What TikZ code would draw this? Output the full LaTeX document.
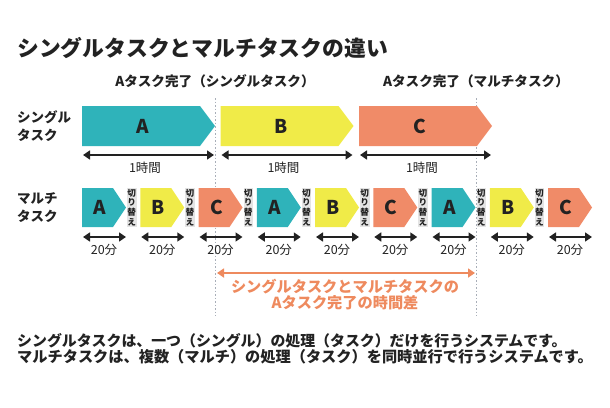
\documentclass[tikz,border=0pt]{standalone}
\usepackage{fontspec}
\setmainfont{Noto Sans CJK JP}
\usetikzlibrary{arrows.meta}
\definecolor{cTeal}{HTML}{2FB3BA}
\definecolor{cYel}{HTML}{F0EB48}
\definecolor{cOra}{HTML}{F08B68}
\definecolor{cOraT}{HTML}{EE8A5E}
\definecolor{cGray}{HTML}{E4E4E4}
\definecolor{cDark}{HTML}{222222}
\definecolor{cDot}{HTML}{A8AEB8}
\tikzset{
  blklabel/.style={font=\fontsize{19}{19}\selectfont\bfseries, text=cDark, inner sep=0},
  dimlabel/.style={font=\fontsize{12.5}{13}\selectfont, text=cDark, inner sep=0},
  dimarrow/.style={draw=cDark, line width=1.7pt, {Triangle[length=7pt,width=9pt]}-{Triangle[length=7pt,width=9pt]}},
  orarrow/.style={draw=cOraT, line width=1.8pt, {Triangle[length=7pt,width=9pt]}-{Triangle[length=7pt,width=9pt]}},
  dotline/.style={draw=cDot, line width=0.8pt, dash pattern=on 1.5pt off 2pt},
  switchbox/.style={fill=cGray, draw=none, minimum width=9.5pt, minimum height=39pt, inner sep=0,
    align=center, font=\fontsize{8.6}{9.6}\selectfont\bfseries, text=cDark},
  rowlabel/.style={font=\fontsize{13.5}{18}\selectfont\bfseries, text=cDark, align=left, anchor=west, inner sep=0},
  toplabel/.style={font=\fontsize{13.6}{14}\selectfont\bfseries, text=cDark, inner sep=0},
}
\begin{document}
\begin{tikzpicture}[x=1pt,y=-1pt]
\useasboundingbox (0,0) rectangle (610,407);
% title
\node[anchor=west, inner sep=0, font=\fontsize{21.8}{22}\selectfont\bfseries, text=cDark] (title) at (17,48) {シングルタスクとマルチタスクの違い};
% dotted guide lines
\coordinate (d1t) at (215,98); \coordinate (d1b) at (215,316);
\coordinate (d2t) at (476,98); \coordinate (d2b) at (476,316);
\draw[dotline] (d1t) -- (d1b);
\draw[dotline] (d2t) -- (d2b);
% top labels
\node[toplabel] (lab1) at (215,81) {Aタスク完了（シングルタスク）};
\node[toplabel] (lab2) at (476,81) {Aタスク完了（マルチタスク）};
% row labels
\node[rowlabel] (rs) at (17,126) {シングル\\タスク};
\node[rowlabel] (rm) at (17,207.5) {マルチ\\タスク};
% single row
\foreach \i/\L/\c/\x in {0/A/cTeal/82,1/B/cYel/220.5,2/C/cOra/359} {
  \fill[\c] (\x,106) -- ++(118,0) -- ++(15,20) -- ++(-15,20) -- ++(-118,0) -- cycle;
  \node[blklabel] (s\i) at (\x+61,126) {\L};
  \coordinate (sl\i) at (\x+1,155);
  \coordinate (sr\i) at (\x+132,155);
  \draw[dimarrow] (sl\i) -- (sr\i);
  \node[dimlabel] (st\i) at (\x+63,168) {1時間};
}
% multi row
\foreach \i/\L/\c in {0/A/cTeal,1/B/cYel,2/C/cOra,3/A/cTeal,4/B/cYel,5/C/cOra,6/A/cTeal,7/B/cYel,8/C/cOra} {
  \pgfmathsetmacro\x{82+58.25*\i}
  \fill[\c] (\x,188) -- ++(31,0) -- ++(13,19.5) -- ++(-13,19.5) -- ++(-31,0) -- cycle;
  \node[blklabel] (m\i) at (\x+18,207.5) {\L};
  \coordinate (ml\i) at (\x+1,237);
  \coordinate (mr\i) at (\x+44,237);
  \draw[dimarrow] (ml\i) -- (mr\i);
  \node[dimlabel] (mt\i) at (\x+22,250) {20分};
  \ifnum\i<8
    \node[switchbox] (sw\i) at (\x+49.75,207.5) {切\\り\\替\\え};
  \fi
}
% time difference
\coordinate (oa) at (217,273);
\coordinate (ob) at (475,273);
\draw[orarrow] (oa) -- (ob);
\node[font=\fontsize{15.2}{15.5}\selectfont\bfseries, text=cOraT, align=center, inner sep=0] (diff) at (345,294.5) {シングルタスクとマルチタスクの\\Aタスク完了の時間差};
% bottom text
\node[anchor=west, inner sep=0, font=\fontsize{14.9}{15}\selectfont\bfseries, text=cDark] (t1) at (17,341) {シングルタスクは、一つ（シングル）の処理（タスク）だけを行うシステムです。};
\node[anchor=west, inner sep=0, font=\fontsize{15.2}{15}\selectfont\bfseries, text=cDark] (t2) at (17,357) {マルチタスクは、複数（マルチ）の処理（タスク）を同時並行で行うシステムです。};
\end{tikzpicture}
\end{document}
